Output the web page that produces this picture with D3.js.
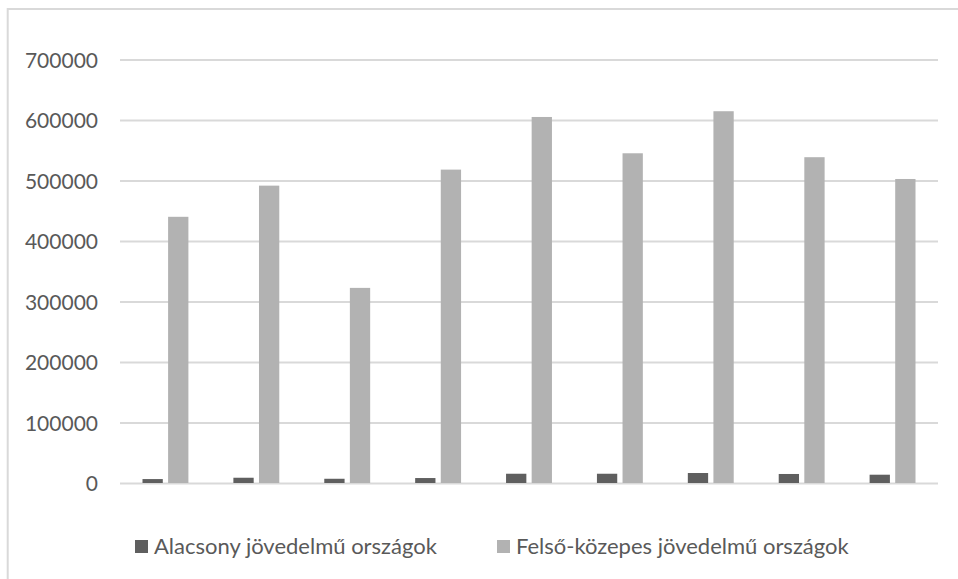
<!DOCTYPE html>
<html>
<head>
<meta charset="utf-8">
<script src="https://cdn.jsdelivr.net/npm/d3@7"></script>
<style>
  html, body { margin: 0; padding: 0; background: #fff; overflow: hidden; }
  svg { display: block; font-family: Lato, "Open Sans", sans-serif; }
</style>
</head>
<body>
<script>
// Data (no category labels are shown in the chart)
const categories = ["1", "2", "3", "4", "5", "6", "7", "8", "9"];
const seriesNames = ["Alacsony jövedelmű országok", "Felső-közepes jövedelmű országok"];
const lowIncome = [6500, 8700, 7000, 8200, 15300, 15300, 16500, 14900, 13700];
const upperMiddle = [440000, 491500, 322500, 518000, 605000, 545000, 614500, 538500, 502500];
const yTicks = [0, 100000, 200000, 300000, 400000, 500000, 600000, 700000];

const colors = ["#5f5f5f", "#b2b2b2"];

// Canvas setup
const canvasWidth = 958;
const canvasHeight = 579;

const svg = d3.select('body')
    .append('svg')
    .attr('width', canvasWidth)
    .attr('height', canvasHeight);

// chart frame (only left and top edges are visible)
svg.append('rect')
    .attr('x', 7.7)
    .attr('y', 9)
    .attr('width', 1000)
    .attr('height', 1000)
    .attr('fill', '#fff')
    .attr('stroke', '#d9d9d9')
    .attr('stroke-width', 2);

const plot = { left: 120, right: 938, top: 59.5, bottom: 483 };

// Setup scales
const xScale = d3.scaleBand()
    .domain(categories)
    .range([plot.left, plot.right])
    .padding(0);

const bw = xScale.bandwidth();
const xInner = d3.scaleBand()
    .domain(seriesNames)
    .range([bw * 0.2475, bw * 0.7525])
    .paddingInner(0.207);

const yScale = d3.scaleLinear()
    .domain([0, 700000])
    .range([plot.bottom, plot.top]);

// gridlines
const grid = svg.append('g')
    .attr('transform', `translate(${plot.left},0)`)
    .call(d3.axisLeft(yScale)
        .tickValues(yTicks)
        .tickSize(-(plot.right - plot.left))
        .tickFormat(''));
grid.select('.domain').remove();
grid.selectAll('.tick line')
    .attr('stroke', '#d9d9d9')
    .attr('stroke-width', 2);

// y axis labels
const yAxis = svg.append('g')
    .attr('transform', `translate(${plot.left},0)`)
    .call(d3.axisLeft(yScale)
        .tickValues(yTicks)
        .tickSize(0)
        .tickPadding(22)
        .tickFormat(d3.format('d')));
yAxis.attr('font-family', null).attr('font-size', null);
yAxis.select('.domain').remove();
yAxis.selectAll('text')
    .attr('fill', '#595959')
    .style('font-family', 'Lato, "Open Sans", sans-serif')
    .style('font-size', '21px')
    .attr('dy', '0.36em');

// draw bars
const rows = categories.map((c, i) => ({
    cat: c,
    values: [
        { name: seriesNames[0], value: lowIncome[i] },
        { name: seriesNames[1], value: upperMiddle[i] }
    ]
}));

const groups = svg.append('g').selectAll('g')
    .data(rows)
    .enter().append('g')
    .attr('transform', d => `translate(${xScale(d.cat)},0)`);

groups.selectAll('rect')
    .data(d => d.values)
    .enter().append('rect')
    .attr('x', d => xInner(d.name))
    .attr('width', xInner.bandwidth())
    .attr('y', d => yScale(d.value))
    .attr('height', d => yScale(0) - yScale(d.value))
    .attr('fill', (d, i) => colors[i]);

// legend
const legend = svg.append('g');
const legendX = [135, 497];
seriesNames.forEach((name, i) => {
    const item = legend.append('g')
        .attr('transform', `translate(${legendX[i]},540)`);
    item.append('rect')
        .attr('width', 13)
        .attr('height', 13)
        .attr('fill', colors[i]);
    item.append('text')
        .attr('x', 19)
        .attr('y', 14)
        .attr('fill', '#595959')
        .style('font-size', '22px')
        .text(name);
});
</script>
</body>
</html>
